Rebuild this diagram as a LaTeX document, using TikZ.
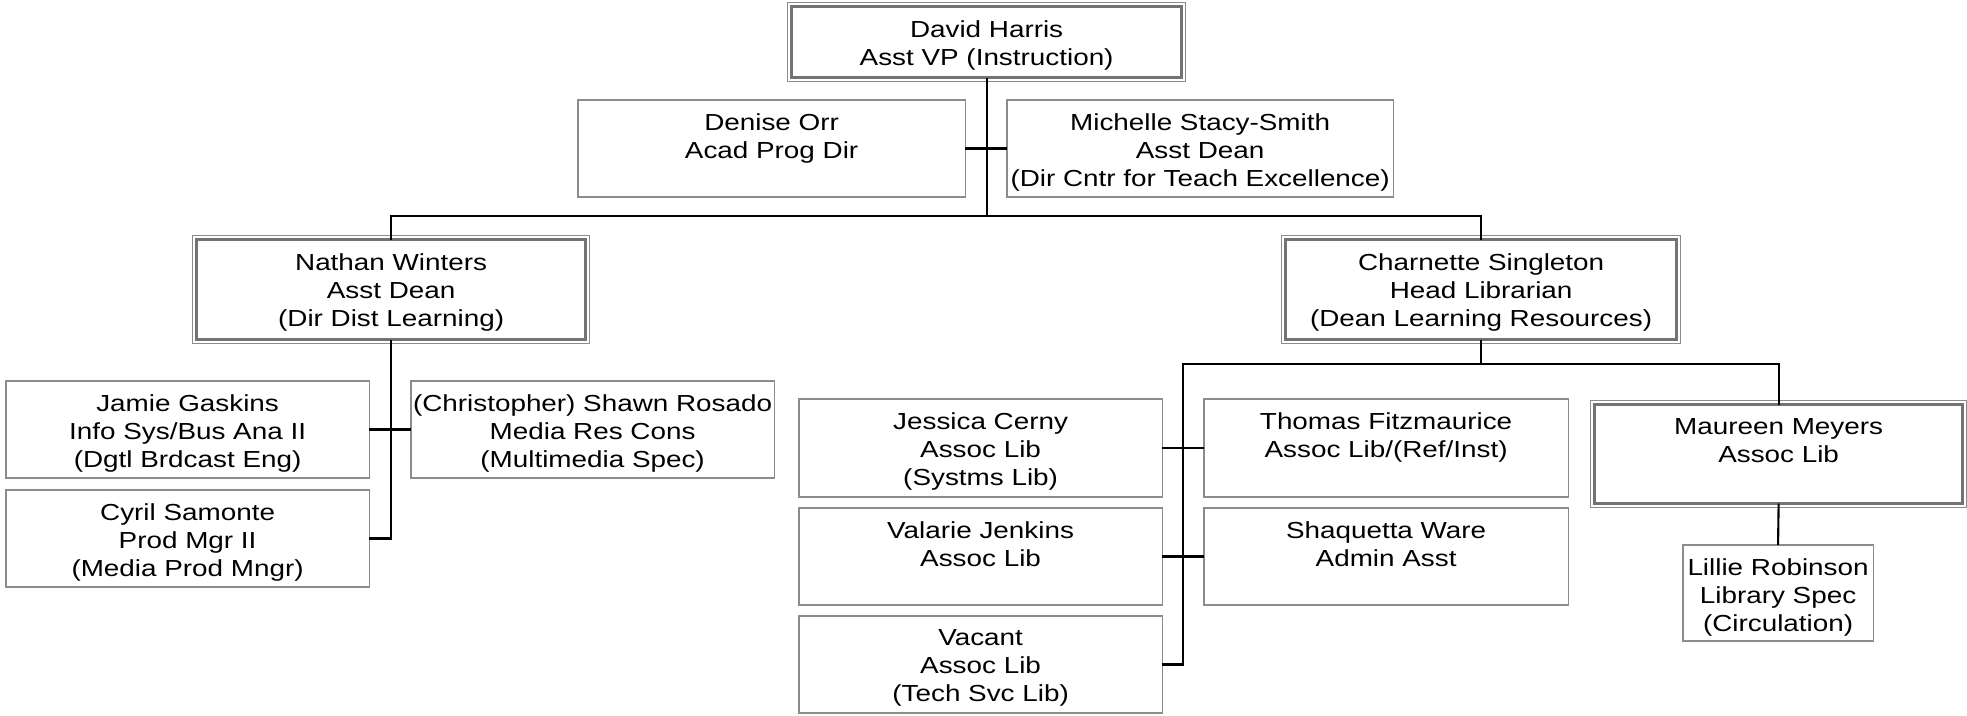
\documentclass[tikz,border=0pt]{standalone}
\usepackage{fontspec}
\setmainfont{Liberation Sans}[FakeStretch=1.2]
\usetikzlibrary{calc}
\newcommand\orgfont{\fontsize{6.6pt}{7.97pt}\selectfont}
\def\outerframe(#1){\draw[frameline] ($(#1.north west)+(-4,-4)$) rectangle ($(#1.south east)+(4,4)$);}

\begin{document}
\begin{tikzpicture}[x=0.01cm, y=-0.01cm,
	frameline/.style={draw=black!45, line width=0.35pt},
	box/.style={draw=black!45, line width=0.35pt, anchor=north west, inner sep=0pt, outer sep=0pt},
	lead/.style={box, draw=black!55, line width=0.75pt},
	txt/.style={anchor=north, align=center, inner sep=0pt, yshift=-0.13cm, font=\orgfont},
	link/.style={line width=0.6pt}]
				\useasboundingbox (0,0) rectangle (1967,715);
				
				% top
				\node[lead, minimum width=3.90cm, minimum height=0.71cm, label={[txt]north:{David Harris\\Asst VP (Instruction)}}] (harris) at (791.5,6.5) {};
				\outerframe(harris)
				\node[box, minimum width=3.87cm, minimum height=0.97cm, label={[txt]north:{Denise Orr\\Acad Prog Dir}}] (orr) at (578,100) {};
				\node[box, minimum width=3.86cm, minimum height=0.97cm, label={[txt]north:{Michelle Stacy-Smith\\Asst Dean\\(Dir Cntr for Teach Excellence)}}] (stacy) at (1007,100) {};
				
				% distance learning
				\node[lead, minimum width=3.89cm, minimum height=1.00cm, label={[txt]north:{Nathan Winters\\Asst Dean\\(Dir Dist Learning)}}] (winters) at (196.5,239.5) {};
				\outerframe(winters)
				\node[box, minimum width=3.63cm, minimum height=0.97cm, label={[txt]north:{Jamie Gaskins\\Info Sys/Bus Ana II\\(Dgtl Brdcast Eng)}}] (gaskins) at (6,381) {};
				\node[box, minimum width=3.63cm, minimum height=0.97cm, label={[txt]north:{(Christopher) Shawn Rosado\\Media Res Cons\\(Multimedia Spec)}}] (rosado) at (411,381) {};
				\node[box, minimum width=3.63cm, minimum height=0.97cm, label={[txt]north:{Cyril Samonte\\Prod Mgr II\\(Media Prod Mngr)}}] (samonte) at (6,490) {};
				
				% library
				\node[lead, minimum width=3.91cm, minimum height=1.00cm, label={[txt]north:{Charnette Singleton\\Head Librarian\\(Dean Learning Resources)}}] (singleton) at (1285.5,239.5) {};
				\outerframe(singleton)
				\node[box, minimum width=3.63cm, minimum height=0.98cm, label={[txt]north:{Jessica Cerny\\Assoc Lib\\(Systms Lib)}}] (cerny) at (799,399) {};
				\node[box, minimum width=3.64cm, minimum height=0.98cm, label={[txt]north:{Thomas Fitzmaurice\\Assoc Lib/(Ref/Inst)}}] (fitz) at (1204,399) {};
				\node[box, minimum width=3.63cm, minimum height=0.97cm, label={[txt]north:{Valarie Jenkins\\Assoc Lib}}] (jenkins) at (799,508) {};
				\node[box, minimum width=3.64cm, minimum height=0.97cm, label={[txt]north:{Shaquetta Ware\\Admin Asst}}] (ware) at (1204,508) {};
				\node[box, minimum width=3.63cm, minimum height=0.97cm, label={[txt]north:{Vacant\\Assoc Lib\\(Tech Svc Lib)}}] (vacant) at (799,616) {};
				\node[lead, minimum width=3.68cm, minimum height=0.99cm, label={[txt]north:{Maureen Meyers\\Assoc Lib}}] (meyers) at (1594.5,404.5) {};
				\outerframe(meyers)
				\node[box, minimum width=1.90cm, minimum height=0.96cm, label={[txt]north:{Lillie Robinson\\Library Spec\\(Circulation)}}] (robinson) at (1683,545) {};
				
				% connectors
				\coordinate (topbus) at (harris.south |- 0,216);
				\coordinate (libbus) at (singleton.south |- 0,364);
				\coordinate (libleft) at (1183,364);
				\draw[link] (harris.south) -- (topbus);
				\draw[link] (orr.east) -- (stacy.west);
				\draw[link] (winters.north) |- (topbus) -| (singleton.north);
				\draw[link] (winters.south) |- (samonte.east);
				\draw[link] (gaskins.east) -- (rosado.west);
				\draw[link] (singleton.south) -- (libbus);
				\draw[link] (meyers.north) |- (libleft) |- (vacant.east);
				\draw[link] (cerny.east) -- (fitz.west);
				\draw[link] (jenkins.east) -- (ware.west);
				\draw[link] (meyers.south) -- (robinson.north);
			\end{tikzpicture}
\end{document}
